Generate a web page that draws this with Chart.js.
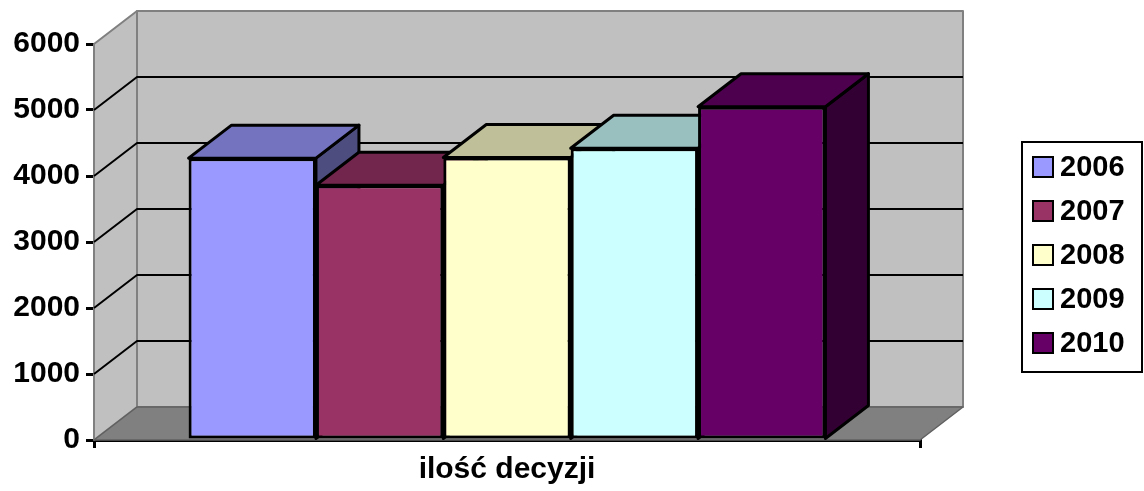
<!DOCTYPE html>
<html>
<head>
<meta charset="utf-8">
<script src="https://cdn.jsdelivr.net/npm/chart.js@4/dist/chart.umd.min.js"></script>
<style>
  html, body { margin: 0; padding: 0; background: #fff; }
</style>
</head>
<body>
<canvas id="chDecyzje" width="1144" height="491"></canvas>
<script>
// data
const categories = ['ilość decyzji'];
const years = ['2006', '2007', '2008', '2009', '2010'];
const values = [4270, 3860, 4280, 4420, 5050];
const colors = ['#9999FF', '#993366', '#FFFFCC', '#CCFFFF', '#660066'];
const yTicks = [0, 1000, 2000, 3000, 4000, 5000, 6000];

// 3d depth of the box (px)
const DX = 43, DY = -33;
const FONT = '"Liberation Sans", Arial, sans-serif';

function shade(hex, f) {
    const n = parseInt(hex.slice(1), 16);
    const r = Math.round(((n >> 16) & 255) * f);
    const g = Math.round(((n >> 8) & 255) * f);
    const b = Math.round((n & 255) * f);
    return `rgb(${r},${g},${b})`;
}

function poly(ctx, pts, fill, stroke, lw) {
    ctx.beginPath();
    ctx.moveTo(pts[0][0], pts[0][1]);
    for (let i = 1; i < pts.length; i++) ctx.lineTo(pts[i][0], pts[i][1]);
    ctx.closePath();
    if (fill) { ctx.fillStyle = fill; ctx.fill(); }
    if (stroke) { ctx.strokeStyle = stroke; ctx.lineWidth = lw; ctx.stroke(); }
}

const box3d = {
    id: 'box3d',
    beforeDatasetsDraw(chart) {
        const ctx = chart.ctx;
        const { left: L, right: R, top: T, bottom: B } = chart.chartArea;
        const y = chart.scales.y;
        ctx.save();
        ctx.lineJoin = 'round';
        // walls + floor
        poly(ctx, [[L + DX, T + DY], [R + DX, T + DY], [R + DX, B + DY], [L + DX, B + DY]], '#C0C0C0', '#808080', 2);
        poly(ctx, [[L, T], [L + DX, T + DY], [L + DX, B + DY], [L, B]], '#C0C0C0', '#808080', 2);
        poly(ctx, [[L, B], [L + DX, B + DY], [R + DX, B + DY], [R, B]], '#808080', '#606060', 1.5);

        // gridlines on the left and back walls
        ctx.strokeStyle = '#000';
        ctx.lineWidth = 2;
        yTicks.slice(1, -1).forEach(v => {
            const py = y.getPixelForValue(v);
            ctx.beginPath();
            ctx.moveTo(L, py);
            ctx.lineTo(L + DX, py + DY);
            ctx.lineTo(R + DX, py + DY);
            ctx.stroke();
        });

        // sides and tops of the bars, left to right; fronts come from chart.js
        chart.data.datasets.forEach((ds, i) => {
            const meta = chart.getDatasetMeta(i);
            meta.data.forEach(bar => {
                const x0 = bar.x - bar.width / 2, x1 = bar.x + bar.width / 2;
                const top = bar.y, base = bar.base;
                poly(ctx, [[x1, top], [x1 + DX, top + DY], [x1 + DX, base + DY], [x1, base]], shade(ds.backgroundColor, 0.5), '#000', 3);
                poly(ctx, [[x0, top], [x1, top], [x1 + DX, top + DY], [x0 + DX, top + DY]], shade(ds.backgroundColor, 0.75), '#000', 3);
            });
        });
        ctx.restore();
    },
    afterDraw(chart) {
        // legend box on the right
        const ctx = chart.ctx;
        ctx.save();
        ctx.strokeStyle = '#000';
        ctx.lineWidth = 2;
        ctx.strokeRect(1022, 142, 120, 230);
        ctx.font = `bold 29px ${FONT}`;
        ctx.textBaseline = 'middle';
        chart.data.datasets.forEach((ds, i) => {
            const cy = 167 + i * 44;
            ctx.fillStyle = ds.backgroundColor;
            ctx.fillRect(1033, cy - 10, 20, 20);
            ctx.strokeRect(1033, cy - 10, 20, 20);
            ctx.fillStyle = '#000';
            ctx.fillText(ds.label, 1060, cy + 1);
        });
        ctx.restore();
    }
};

new Chart(document.getElementById('chDecyzje').getContext('2d'), {
    type: 'bar',
    data: {
        labels: categories,
        datasets: years.map((yr, i) => ({
            label: yr,
            data: [values[i]],
            backgroundColor: colors[i],
            borderColor: '#000',
            borderWidth: 3,
            borderSkipped: false,
            barPercentage: 1,
            categoryPercentage: 0.771
        }))
    },
    options: {
        responsive: false,
        animation: false,
        layout: { padding: { top: 44, right: 224, bottom: 0, left: 0 } },
        scales: {
            x: {
                grid: { display: true, offset: true, drawOnChartArea: false, drawTicks: true, tickLength: 8, color: '#000', lineWidth: 3 },
                border: { display: true, color: '#000', width: 3 },
                ticks: { display: false },
                title: {
                    display: true,
                    text: categories[0],
                    color: '#000',
                    font: { family: FONT, size: 30, weight: 'bold' },
                    padding: { top: 0, bottom: 3 }
                },
                afterFit: s => { s.height = 51; }
            },
            y: {
                min: 0,
                max: 6000,
                ticks: {
                    stepSize: 1000,
                    color: '#000',
                    padding: 6,
                    font: { family: FONT, size: 30, weight: 'bold' },
                    callback: v => String(v)
                },
                grid: { drawOnChartArea: false, drawTicks: true, tickLength: 8, color: '#000', lineWidth: 3 },
                border: { display: true, color: '#000', width: 3 },
                afterFit: s => { s.width = 94; }
            }
        },
        plugins: {
            legend: { display: false },
            tooltip: { enabled: false }
        }
    },
    plugins: [box3d]
});
</script>
</body>
</html>
